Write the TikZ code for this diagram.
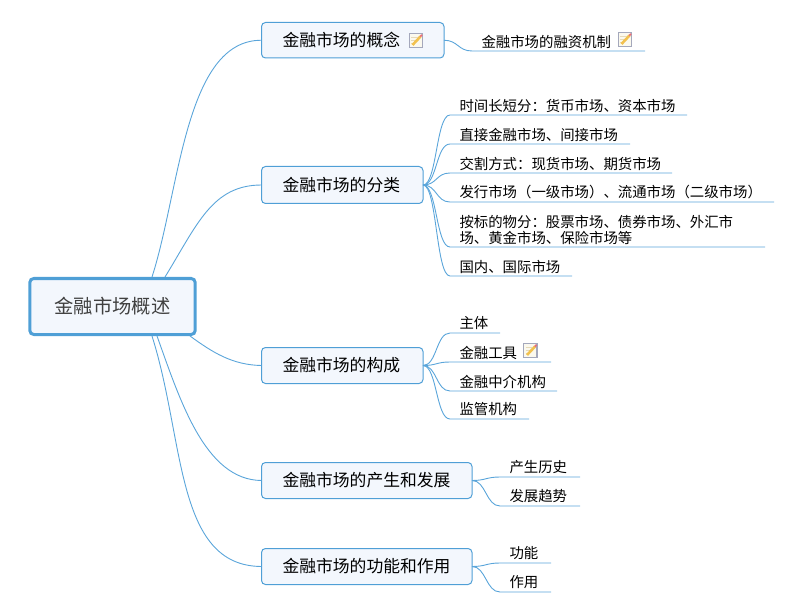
\documentclass[tikz,border=0pt]{standalone}
\usepackage{fontspec}
\setmainfont{Noto Sans CJK SC}
\definecolor{linkc}{HTML}{5AA5DA}
\definecolor{boxfill}{HTML}{F3F7FD}
\definecolor{boxline}{HTML}{4F9FD6}
\definecolor{iconframe}{HTML}{A4A8BC}
\definecolor{iconfill}{HTML}{FBF9EE}
\definecolor{iconlines}{HTML}{E6D9B8}
\definecolor{iconpencil}{HTML}{F2C14E}
\definecolor{icontip}{HTML}{E8707A}
\tikzset{
  topic/.style={draw=boxline,fill=boxfill,line width=1pt,rounded corners=4pt,outer sep=0pt,inner xsep=21pt,inner ysep=0pt,anchor=north west,align=left,font=\fontsize{16.8pt}{20pt}\selectfont,text=black},
  rootbox/.style={draw=boxline,fill=boxfill,line width=3pt,rounded corners=4pt,outer sep=0pt,inner sep=0pt,anchor=north west,align=center,font=\fontsize{19.3pt}{23pt}\selectfont,text=black!75,minimum width=165.4pt,minimum height=56pt},
  leaf/.style={inner xsep=9.5pt,inner ysep=0pt,outer sep=0pt,anchor=south west,align=left,minimum height=19pt,font=\fontsize{14.4pt}{16pt}\selectfont,text=black},
  link/.style={draw=linkc,line width=0.9pt},
  noteicon/.pic={
    \draw[draw=iconframe,line width=1.2pt,fill=iconfill] (0.6,0.6) rectangle (14,14.4);
    \draw[iconlines,line width=.7pt] (2.5,4.5) -- (9,4.5) (2.5,7.5) -- (7,7.5) (2.5,10.5) -- (5,10.5);
    \draw[iconpencil,line width=2.6pt] (4,12) -- (12,3.5);
    \draw[icontip,line width=1.8pt] (11.8,3.6) -- (13.5,1.8);
  }
}
\begin{document}
\begin{tikzpicture}[x=1pt,y=-1pt]
\useasboundingbox (0,0) rectangle (800,612);
\node[rootbox] (root) at (29.8,278.5) {金融市场概述};
\node[topic,text width=140.5pt,minimum height=35.5pt] (t1) at (261.5,22.5) {金融市场的概念};
\node[topic,text width=119.5pt,minimum height=37pt] (t2) at (261.5,166.5) {金融市场的分类};
\node[topic,text width=119.5pt,minimum height=36pt] (t3) at (261.5,347.5) {金融市场的构成};
\node[topic,text width=168.5pt,minimum height=36pt] (t4) at (261.5,462.5) {金融市场的产生和发展};
\node[topic,text width=168.5pt,minimum height=36pt] (t5) at (261.5,548.5) {金融市场的功能和作用};
\coordinate (r1) at (152,277);
\coordinate (r2) at (165,277);
\coordinate (r3) at (190,336);
\coordinate (r4) at (157,336);
\coordinate (r5) at (152,336);
\draw[link] (r1) .. controls (180,190) and (185,40) .. (t1.west);
\draw[link] (r2) .. controls (197,225) and (212,185) .. (t2.west);
\draw[link] (r3) .. controls (212,352) and (232,365) .. (t3.west);
\draw[link] (r4) .. controls (180,400) and (205,480) .. (t4.west);
\draw[link] (r5) .. controls (185,440) and (175,566) .. (t5.west);
% leaves
\node[leaf,text width=154pt,minimum width=173pt] (a1) at (472,51) {金融市场的融资机制};
\node[leaf,text width=218pt,minimum width=237pt] (b1) at (450,115) {时间长短分：货币市场、资本市场};
\node[leaf,text width=161pt,minimum width=180pt] (b2) at (450,144) {直接金融市场、间接市场};
\node[leaf,text width=203pt,minimum width=222pt] (b3) at (450,173) {交割方式：现货市场、期货市场};
\node[leaf,text width=305pt,minimum width=324pt] (b4) at (450,202) {发行市场（一级市场）、流通市场（二级市场）};
\node[leaf,text width=296pt,minimum width=315pt,minimum height=35pt] (b5) at (450,247) {按标的物分：股票市场、债券市场、外汇市\\场、黄金市场、保险市场等};
\node[leaf,text width=103pt,minimum width=122pt] (b6) at (450,276) {国内、国际市场};
\node[leaf,text width=31pt,minimum width=50pt] (c1) at (450,333) {主体};
\node[leaf,text width=82pt,minimum width=101pt] (c2) at (450,362) {金融工具};
\node[leaf,text width=88pt,minimum width=107pt] (c3) at (450,391) {金融中介机构};
\node[leaf,text width=60pt,minimum width=79pt] (c4) at (450,419) {监管机构};
\node[leaf,text width=61pt,minimum width=80pt] (d1) at (500,477) {产生历史};
\node[leaf,text width=61pt,minimum width=80pt] (d2) at (500,506) {发展趋势};
\node[leaf,text width=32pt,minimum width=51pt] (e1) at (500,563) {功能};
\node[leaf,text width=32pt,minimum width=51pt] (e2) at (500,592) {作用};
\foreach \p/\c in {t1/a1,t2/b1,t2/b2,t2/b3,t2/b4,t2/b5,t2/b6,t3/c1,t3/c2,t3/c3,t3/c4,t4/d1,t4/d2,t5/e1,t5/e2}{
  \draw[link] (\p.east) .. controls +(14,0) and +(-14,0) .. (\c.south west) -- (\c.south east);
}
\pic at (408.5,33) {noteicon};
\pic at (617.5,32) {noteicon};
\pic at (523,343) {noteicon};
\end{tikzpicture}
\end{document}
